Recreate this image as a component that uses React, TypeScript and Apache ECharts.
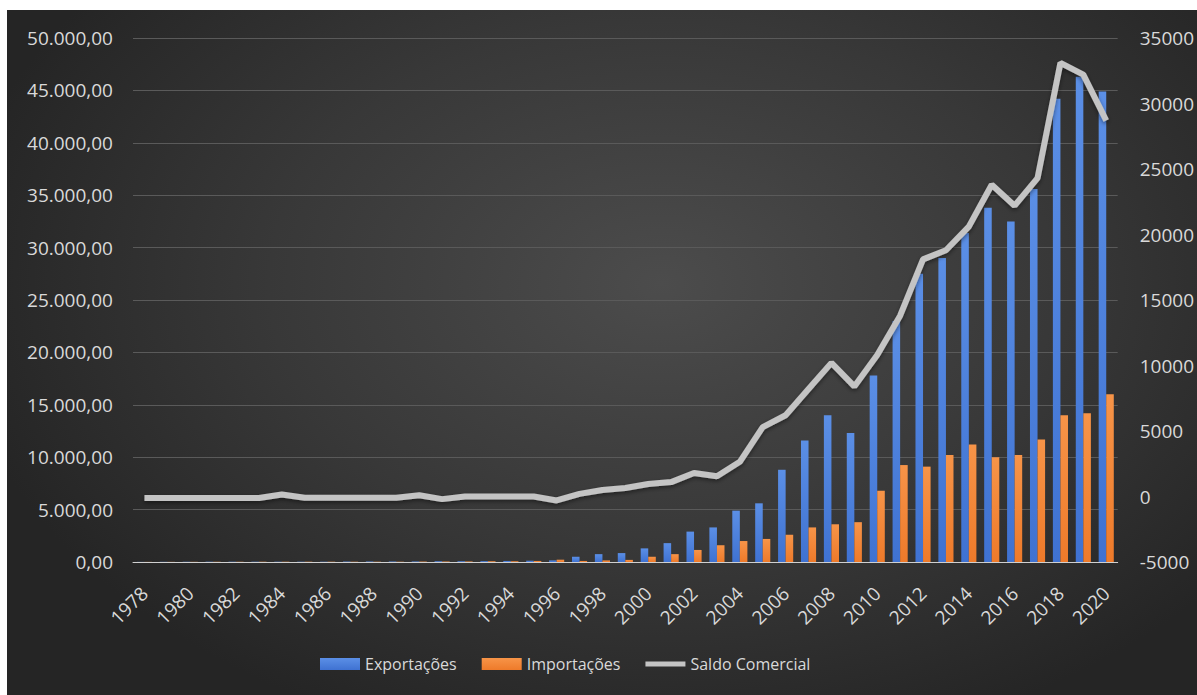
import React, { useEffect, useRef } from "react";
import * as echarts from "echarts";

const years: string[] = [];
for (let y = 1978; y <= 2020; y++) years.push(String(y));

const exportacoes = [
  10, 15, 20, 25, 25, 25, 30, 30, 35, 40, 45, 45, 50, 60, 70, 80, 100, 120, 150,
  500, 750, 850, 1300, 1800, 2900, 3300, 4900, 5600, 8800, 11600, 14000, 12300,
  17800, 23000, 27500, 29000, 31400, 33800, 32500, 35600, 44200, 46300, 44900,
];

const importacoes = [
  10, 12, 15, 20, 20, 20, 20, 25, 25, 30, 30, 35, 40, 45, 50, 60, 80, 100, 220,
  100, 150, 200, 500, 750, 1150, 1600, 2000, 2200, 2600, 3300, 3600, 3800, 6800,
  9250, 9100, 10200, 11200, 10000, 10200, 11700, 14000, 14200, 16000,
];

const saldoComercial = [
  -120, -120, -120, -120, -120, -120, 150, -100, -100, -100, -100, -100, 100,
  -200, 0, 0, 0, 0, -300, 200, 500, 650, 950, 1100, 1800, 1550, 2650, 5300,
  6200, 8200, 10200, 8400, 10800, 13800, 18100, 18800, 20600, 23800, 22200,
  24300, 33100, 32200, 28700,
];

const leftTicks = { min: 0, max: 50000, interval: 5000 };
const rightTicks = { min: -5000, max: 35000, interval: 5000 };

const FONT = "'Open Sans', 'Noto Sans', sans-serif";
const TXT = "#d9d9d9";

function fmtBR(v: number): string {
  const s = Math.round(v).toString().replace(/\B(?=(\d{3})+(?!\d))/g, ".");
  return s + ",00";
}

export default function App() {
  const ref = useRef<HTMLDivElement>(null);
  useEffect(() => {
    if (!ref.current) return;
    const chart = echarts.init(ref.current, null, { renderer: "svg" });
    chart.setOption({
      animation: false,
      backgroundColor: "transparent",
      grid: { left: 126, right: 79, top: 28, bottom: 133, containLabel: false },
      legend: {
        left: 308,
        top: 641,
        itemWidth: 40,
        itemHeight: 12,
        itemGap: 25,
        textStyle: { color: TXT, fontSize: 16, fontFamily: FONT },
        data: [
          { name: "Exportações", icon: "rect" },
          { name: "Importações", icon: "rect" },
          {
            name: "Saldo Comercial",
            icon: "path://M0,0 M40,12 M0,3.5 L40,3.5 L40,8.5 L0,8.5 Z",
            itemStyle: { color: "#c4c4c4" },
          },
        ],
      },
      xAxis: {
        type: "category",
        data: years,
        boundaryGap: true,
        axisLine: { lineStyle: { color: "#d0d0d0", width: 1 } },
        axisTick: { show: false },
        axisLabel: {
          interval: 1,
          rotate: 45,
          color: TXT,
          fontSize: 19,
          fontFamily: FONT,
          margin: 28,
        },
      },
      yAxis: [
        {
          type: "value",
          min: leftTicks.min,
          max: leftTicks.max,
          interval: leftTicks.interval,
          axisLine: { show: false },
          axisTick: { show: false },
          splitLine: { lineStyle: { color: "#5a5a5a", width: 1 } },
          axisLabel: {
            color: TXT,
            fontSize: 19,
            fontFamily: FONT,
            margin: 20,
            formatter: (v: number) => fmtBR(v),
          },
        },
        {
          type: "value",
          min: rightTicks.min,
          max: rightTicks.max,
          interval: rightTicks.interval,
          position: "right",
          axisLine: { show: false },
          axisTick: { show: false },
          splitLine: { show: false },
          axisLabel: {
            color: TXT,
            fontSize: 19,
            fontFamily: FONT,
            margin: 22,
            formatter: (v: number) => String(v),
          },
        },
      ],
      series: [
        {
          name: "Exportações",
          type: "bar",
          yAxisIndex: 0,
          data: exportacoes,
          barGap: "0%",
          barCategoryGap: "34%",
          itemStyle: {
            color: new echarts.graphic.LinearGradient(0, 0, 0, 1, [
              { offset: 0, color: "#5b8fe6" },
              { offset: 1, color: "#3f72d2" },
            ]),
          },
        },
        {
          name: "Importações",
          type: "bar",
          yAxisIndex: 0,
          data: importacoes,
          barGap: "0%",
          barCategoryGap: "34%",
          itemStyle: {
            color: new echarts.graphic.LinearGradient(0, 0, 0, 1, [
              { offset: 0, color: "#f79448" },
              { offset: 1, color: "#ee7a2a" },
            ]),
          },
        },
        {
          name: "Saldo Comercial",
          type: "line",
          yAxisIndex: 1,
          data: saldoComercial,
          symbol: "none",
          showSymbol: false,
          z: 5,
          itemStyle: { color: "#c4c4c4" },
          lineStyle: {
            color: "#c4c4c4",
            width: 6,
            shadowColor: "rgba(0,0,0,0.45)",
            shadowBlur: 4,
            shadowOffsetY: 2,
          },
        },
      ],
    });
    return () => chart.dispose();
  }, []);

  return (
    <div
      style={{
        position: "absolute",
        left: 7,
        top: 10,
        width: 1190,
        height: 685,
        background:
          "radial-gradient(ellipse 60% 70% at 55% 40%, #4c4c4c 0%, #383838 55%, #252525 100%)",
      }}
    >
      <div ref={ref} style={{ width: 1190, height: 685 }} />
    </div>
  );
}
